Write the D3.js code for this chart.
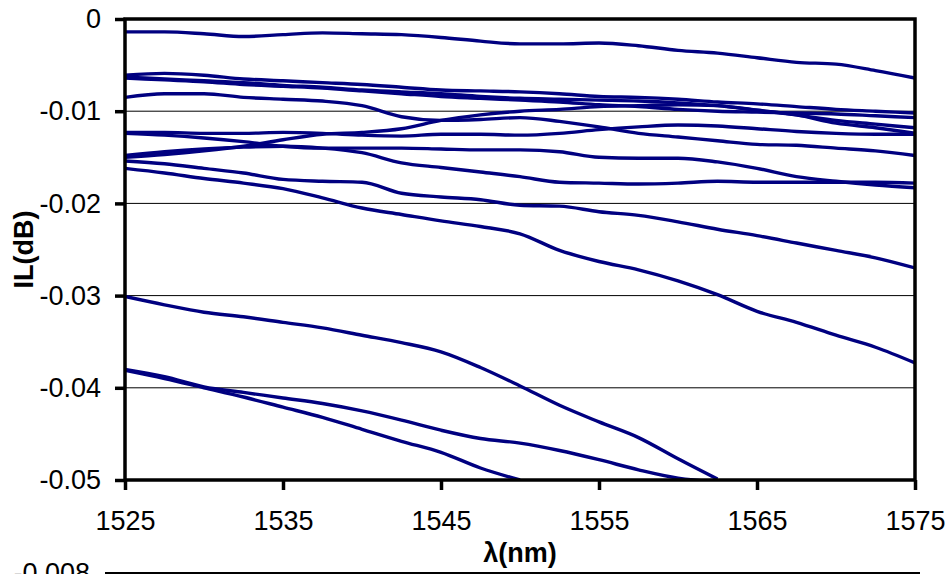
<html>
<head>
<meta charset="utf-8">
<title>IL vs wavelength</title>
<script src="https://d3js.org/d3.v7.min.js" type="text/javascript"></script>
<style type="text/css">
    body { margin: 0; background: #fff; }
    text { font-family: "Liberation Sans", Arial, sans-serif; fill: #000; }
    .grid line { stroke: #000; stroke-width: 1px; }
    .curve { fill: none; stroke: #000080; stroke-width: 3.4px; stroke-linejoin: round; }
</style>
</head>
<body>
<div id="chart"></div>

<script type="text/javascript">
// wavelength samples (nm)
var wl = [1525,1527.5,1530,1532.5,1535,1537.5,1540,1542.5,1545,1547.5,1550,1552.5,1555,1557.5,1560,1562.5,1565,1567.5,1570,1572.5,1575];

var xTicks = [1525,1535,1545,1555,1565,1575];
var yTicks = [0,-0.01,-0.02,-0.03,-0.04,-0.05];

// IL (dB) of each trace
var s1  = [-0.0014,-0.0014,-0.0016,-0.0019,-0.0017,-0.0015,-0.0016,-0.0017,-0.0020,-0.0024,-0.0027,-0.0027,-0.0026,-0.0029,-0.0034,-0.0037,-0.0042,-0.0047,-0.0049,-0.0056,-0.0064];
var s2  = [-0.0061,-0.0059,-0.0061,-0.0065,-0.0067,-0.0069,-0.0071,-0.0074,-0.0077,-0.0078,-0.0079,-0.0081,-0.0084,-0.0085,-0.0087,-0.0090,-0.0092,-0.0095,-0.0098,-0.0100,-0.0102];
var s3  = [-0.0063,-0.0065,-0.0067,-0.0069,-0.0072,-0.0074,-0.0077,-0.0079,-0.0081,-0.0084,-0.0086,-0.0087,-0.0088,-0.0089,-0.0091,-0.0094,-0.0099,-0.0104,-0.0113,-0.0118,-0.0124];
var s4  = [-0.0064,-0.0066,-0.0068,-0.0071,-0.0073,-0.0075,-0.0078,-0.0081,-0.0084,-0.0086,-0.0088,-0.0090,-0.0093,-0.0095,-0.0098,-0.0100,-0.0101,-0.0102,-0.0103,-0.0105,-0.0107];
var s5  = [-0.0085,-0.0081,-0.0081,-0.0085,-0.0087,-0.0089,-0.0094,-0.0106,-0.0110,-0.0109,-0.0107,-0.0111,-0.0117,-0.0124,-0.0128,-0.0132,-0.0136,-0.0137,-0.0140,-0.0143,-0.0148];
var s6  = [-0.0123,-0.0123,-0.0124,-0.0124,-0.0123,-0.0124,-0.0126,-0.0127,-0.0125,-0.0125,-0.0126,-0.0124,-0.0120,-0.0117,-0.0115,-0.0116,-0.0119,-0.0122,-0.0124,-0.0125,-0.0125];
var s7  = [-0.0150,-0.0147,-0.0143,-0.0138,-0.0131,-0.0125,-0.0123,-0.0119,-0.0110,-0.0104,-0.0100,-0.0098,-0.0095,-0.0094,-0.0093,-0.0094,-0.0099,-0.0104,-0.0110,-0.0114,-0.0118];
var s8  = [-0.0124,-0.0126,-0.0129,-0.0133,-0.0138,-0.0140,-0.0140,-0.0140,-0.0141,-0.0142,-0.0142,-0.0144,-0.0150,-0.0151,-0.0151,-0.0155,-0.0162,-0.0171,-0.0176,-0.0180,-0.0183];
var s9  = [-0.0148,-0.0144,-0.0141,-0.0139,-0.0138,-0.0140,-0.0145,-0.0156,-0.0161,-0.0166,-0.0171,-0.0177,-0.0178,-0.0179,-0.0178,-0.0176,-0.0177,-0.0177,-0.0177,-0.0177,-0.0178];
var s10 = [-0.0154,-0.0157,-0.0162,-0.0167,-0.0174,-0.0176,-0.0177,-0.0189,-0.0193,-0.0196,-0.0202,-0.0203,-0.0209,-0.0213,-0.0220,-0.0228,-0.0235,-0.0243,-0.0251,-0.0259,-0.0270];
var s11 = [-0.0162,-0.0167,-0.0173,-0.0178,-0.0184,-0.0194,-0.0205,-0.0212,-0.0219,-0.0225,-0.0233,-0.0251,-0.0263,-0.0272,-0.0284,-0.0299,-0.0317,-0.0329,-0.0343,-0.0356,-0.0373];
var s12 = [-0.0301,-0.0310,-0.0318,-0.0323,-0.0329,-0.0335,-0.0343,-0.0351,-0.0361,-0.0378,-0.0398,-0.0419,-0.0437,-0.0454,-0.0477,-0.0499,null,null,null,null,null];
var s13 = [-0.0380,-0.0388,-0.0399,-0.0405,-0.0411,-0.0417,-0.0425,-0.0435,-0.0446,-0.0455,-0.0460,-0.0468,-0.0478,-0.0489,-0.0498,-0.0502,null,null,null,null,null];
var s14 = [-0.0381,-0.0390,-0.0400,-0.0410,-0.0421,-0.0432,-0.0445,-0.0458,-0.0470,-0.0487,-0.0500,null,null,null,null,null,null,null,null,null,null];

var series = [s1,s2,s3,s4,s5,s6,s7,s8,s9,s10,s11,s12,s13,s14];

(function () {
    var width = 950, height = 574;
    var pLeft = 125, pRight = 915, pTop = 19, pBottom = 480;

    var svg = d3.select("#chart").append("svg")
        .attr("width", width)
        .attr("height", height);

    var x = d3.scaleLinear().domain([1525, 1575]).range([pLeft, pRight]);
    var y = d3.scaleLinear().domain([-0.05, 0]).range([pBottom, pTop]);

    svg.append("defs").append("clipPath").attr("id", "plot")
        .append("rect")
        .attr("x", pLeft).attr("y", pTop)
        .attr("width", pRight - pLeft).attr("height", pBottom - pTop);

    // horizontal gridlines
    svg.append("g").attr("class", "grid")
        .selectAll("line")
        .data(yTicks.filter(function (d) { return d < 0 && d > -0.05; }))
        .enter().append("line")
        .attr("x1", pLeft).attr("x2", pRight)
        .attr("y1", function (d) { return y(d); })
        .attr("y2", function (d) { return y(d); });

    var line = d3.line()
        .defined(function (d) { return d[1] != null; })
        .x(function (d) { return x(d[0]); })
        .y(function (d) { return y(d[1]); })
        .curve(d3.curveMonotoneX);

    svg.append("g").attr("clip-path", "url(#plot)")
        .selectAll("path")
        .data(series)
        .enter().append("path")
        .attr("class", "curve")
        .attr("d", function (s) {
            return line(s.map(function (v, i) { return [wl[i], v]; }));
        });

    // plot frame
    svg.append("rect")
        .attr("x", pLeft).attr("y", pTop)
        .attr("width", pRight - pLeft).attr("height", pBottom - pTop)
        .attr("fill", "none").attr("stroke", "#000").attr("stroke-width", 3.5);

    var yAxis = svg.append("g")
        .attr("transform", "translate(" + pLeft + ",0)")
        .call(d3.axisLeft(y).tickValues(yTicks).tickSize(10).tickPadding(14)
            .tickFormat(function (d) { return d === 0 ? "0" : d.toFixed(2); }));

    var xAxis = svg.append("g")
        .attr("transform", "translate(0," + pBottom + ")")
        .call(d3.axisBottom(x).tickValues(xTicks).tickSize(10).tickPadding(21)
            .tickFormat(d3.format("d")));

    [yAxis, xAxis].forEach(function (g) {
        g.select(".domain").remove();
        g.selectAll(".tick line").attr("stroke", "#000").attr("stroke-width", 3.5);
        g.selectAll(".tick text").style("font-size", "27px").attr("fill", "#000");
    });

    // axis titles
    svg.append("text")
        .attr("transform", "translate(33," + ((pTop + pBottom) / 2) + ") rotate(-90)")
        .attr("text-anchor", "middle")
        .style("font-size", "27px").style("font-weight", "bold")
        .text("IL(dB)");

    svg.append("text")
        .attr("x", (pLeft + pRight) / 2).attr("y", 562)
        .attr("text-anchor", "middle")
        .style("font-size", "27px").style("font-weight", "bold")
        .text("λ(nm)");

    // top edge of the next chart below, cut off by the frame
    svg.append("line")
        .attr("x1", 105).attr("x2", 920)
        .attr("y1", 573).attr("y2", 573)
        .attr("stroke", "#000").attr("stroke-width", 2);

    svg.append("text")
        .attr("x", 90).attr("y", 582)
        .attr("text-anchor", "end")
        .style("font-size", "27px")
        .text("-0.008");
})();
</script>
</body>
</html>
